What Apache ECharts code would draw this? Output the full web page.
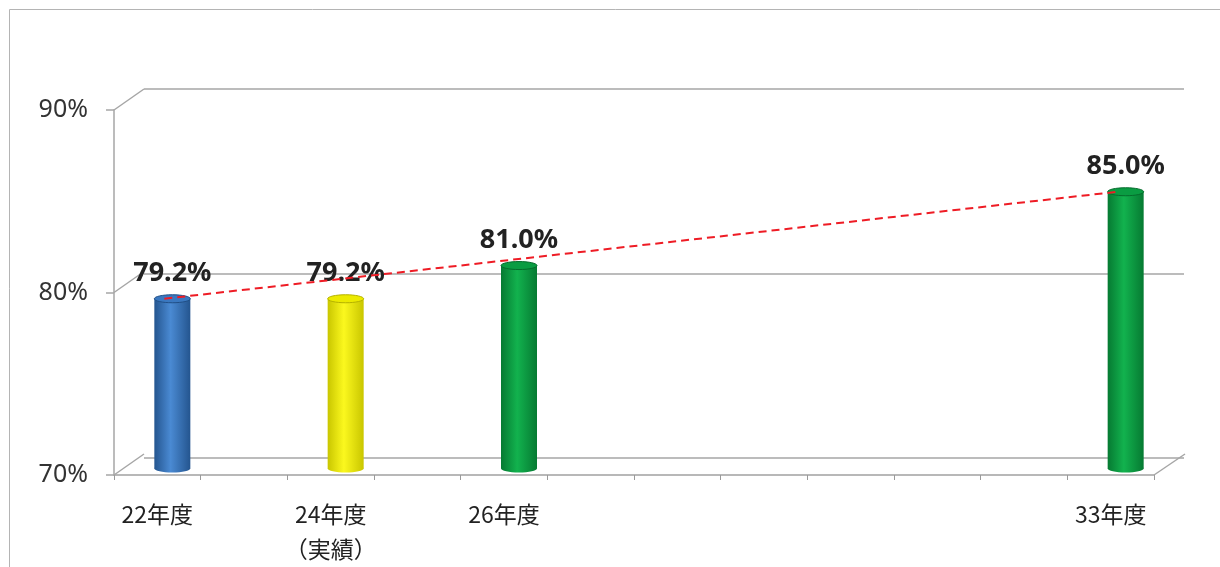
<!DOCTYPE html>
<html>
<head>
<meta charset="utf-8">
<title>年度別 推移</title>
<script src="https://cdn.jsdelivr.net/npm/echarts@6/dist/echarts.min.js"></script>
<style>
  html, body { margin: 0; padding: 0; background: #fff; }
  #chart { width: 1220px; height: 567px; }
</style>
</head>
<body>
<div id="chart"></div>
<script>
// Fiscal years on the category axis (blank slots are years without a bar)
const categories = ['22年度', '', '24年度\n（実績）', '', '26年度', '', '', '', '', '', '', '33年度'];
// Rate (%) for each year; null where no bar is drawn
const rates = [79.2, null, 79.2, null, 81.0, null, null, null, null, null, null, 85.0];
// Value axis ticks (%)
const yTicks = [70, 80, 90];

// ---- styling ----
const Y_MIN = yTicks[0], Y_MAX = yTicks[yTicks.length - 1], Y_STEP = yTicks[1] - yTicks[0];
const DEPTH = [30, -21];          // back wall offset from the front plane
const BAR_DEPTH = [15, -10.5];    // cylinders sit half way into the box
const LINE_SHIFT = -8;            // dashed line horizontal nudge
const GRID = { left: 114, right: 66, top: 110, bottom: 88 };
const axisGray = '#a6a6a6';
const cylinderColors = {
  0: { dark: '#24558f', light: '#4a8ad3', top: '#3a78c0', edge: '#214f86' },
  2: { dark: '#c9c600', light: '#fbf81e', top: '#ecea00', edge: '#b5b200' },
  4: { dark: '#067a32', light: '#12b24e', top: '#0a9c42', edge: '#056c2c' },
  11: { dark: '#067a32', light: '#12b24e', top: '#0a9c42', edge: '#056c2c' }
};

function shifted(d) {
  return {
    left: GRID.left + d[0], right: GRID.right - d[0],
    top: GRID.top + d[1], bottom: GRID.bottom - d[1]
  };
}

const lastIdx = rates.length - 1;
const trendData = rates.map((v, i) => (i === 0 || i === lastIdx) ? v : null);
const barData = rates.map((v, i) => [i, v]).filter(d => d[1] !== null);

function hiddenX(gridIndex) {
  return { type: 'category', gridIndex, data: categories, boundaryGap: true, show: false };
}
function hiddenY(gridIndex, extra) {
  return Object.assign({ type: 'value', gridIndex, min: Y_MIN, max: Y_MAX, interval: Y_STEP,
    axisLabel: { show: false }, axisLine: { show: false }, axisTick: { show: false },
    splitLine: { show: false } }, extra || {});
}

const chart = echarts.init(document.getElementById('chart'), null, { renderer: 'canvas' });

chart.setOption({
  backgroundColor: '#ffffff',
  animation: false,
  graphic: [{
    type: 'rect', left: 7, top: 7, silent: true, z: -10,
    shape: { width: 1240, height: 600 },
    style: { fill: 'none', stroke: '#b4b4b4', lineWidth: 1 }
  }],
  grid: [
    Object.assign({}, GRID),            // 0: front plane (axes)
    shifted(DEPTH),                     // 1: back wall (gridlines)
    shifted(BAR_DEPTH),                 // 2: cylinders
    shifted([BAR_DEPTH[0] + LINE_SHIFT, BAR_DEPTH[1]])   // 3: dashed line
  ],
  xAxis: [
    {
      type: 'category', gridIndex: 0, data: categories, boundaryGap: true,
      axisLine: { show: true, lineStyle: { color: '#b8b8b8', width: 2 } },
      axisTick: { show: true, interval: 0, length: 5, lineStyle: { color: '#9a9a9a', width: 1 } },
      axisLabel: {
        interval: 0, margin: 22, color: '#222',
        fontFamily: '"Noto Sans CJK JP", "Noto Sans", sans-serif', fontSize: 23, lineHeight: 35
      }
    },
    hiddenX(1), hiddenX(2), hiddenX(3)
  ],
  yAxis: [
    {
      type: 'value', gridIndex: 0, min: Y_MIN, max: Y_MAX, interval: Y_STEP,
      axisLine: { show: true, lineStyle: { color: axisGray, width: 1.5 } },
      axisTick: { show: true, length: 8, lineStyle: { color: axisGray, width: 1.5 } },
      splitLine: { show: false },
      axisLabel: {
        formatter: '{value}%', margin: 26, color: '#333',
        fontFamily: '"Noto Sans", sans-serif', fontSize: 25
      }
    },
    hiddenY(1, { splitLine: { show: true, lineStyle: { color: axisGray, width: 1.5 } } }),
    hiddenY(2), hiddenY(3)
  ],
  series: [
    {
      // side-wall and floor edges joining the front plane to the back wall
      type: 'custom', xAxisIndex: 0, yAxisIndex: 0, silent: true, z: 1,
      data: [0],
      renderItem(params, api) {
        const cs = params.coordSys;
        const x0 = cs.x, x1 = cs.x + cs.width;
        const style = { stroke: axisGray, lineWidth: 1.5 };
        const children = yTicks.map(t => {
          const y = api.coord([0, t])[1];
          return { type: 'line', shape: { x1: x0, y1: y, x2: x0 + DEPTH[0], y2: y + DEPTH[1] }, style };
        });
        const yb = api.coord([0, Y_MIN])[1];
        children.push({ type: 'line', shape: { x1: x1, y1: yb, x2: x1 + DEPTH[0] + 1, y2: yb + DEPTH[1] }, style });
        return { type: 'group', children };
      }
    },
    {
      // cylinders
      type: 'custom', xAxisIndex: 2, yAxisIndex: 2, z: 3,
      data: barData,
      renderItem(params, api) {
        const i = api.value(0), v = api.value(1);
        const top = api.coord([i, v]);
        const base = api.coord([i, Y_MIN]);
        const w = 36, ry = 4;
        const c = cylinderColors[i];
        const body = new echarts.graphic.LinearGradient(0, 0, 1, 0, [
          { offset: 0, color: c.dark }, { offset: 0.45, color: c.light }, { offset: 1, color: c.dark }
        ]);
        return {
          type: 'group',
          children: [
            { type: 'ellipse', shape: { cx: base[0], cy: base[1], rx: w / 2, ry: ry }, style: { fill: body } },
            { type: 'rect', shape: { x: top[0] - w / 2, y: top[1], width: w, height: base[1] - top[1] }, style: { fill: body } },
            { type: 'ellipse', shape: { cx: top[0], cy: top[1], rx: w / 2, ry: ry }, style: { fill: c.top, stroke: c.edge, lineWidth: 1 } },
            {
              type: 'text', z2: 10,
              style: {
                text: v.toFixed(1) + '%', x: top[0], y: top[1] - 12,
                align: 'center', verticalAlign: 'bottom',
                font: 'bold 27px "Noto Sans", sans-serif', fill: '#222'
              }
            }
          ]
        };
      }
    },
    {
      // dashed trend from the first to the last year
      type: 'line', xAxisIndex: 3, yAxisIndex: 3, z: 5,
      data: trendData, connectNulls: true, symbol: 'none', silent: true,
      lineStyle: { color: '#ee1c25', width: 2, type: [8, 5] }
    }
  ]
});
</script>
</body>
</html>
